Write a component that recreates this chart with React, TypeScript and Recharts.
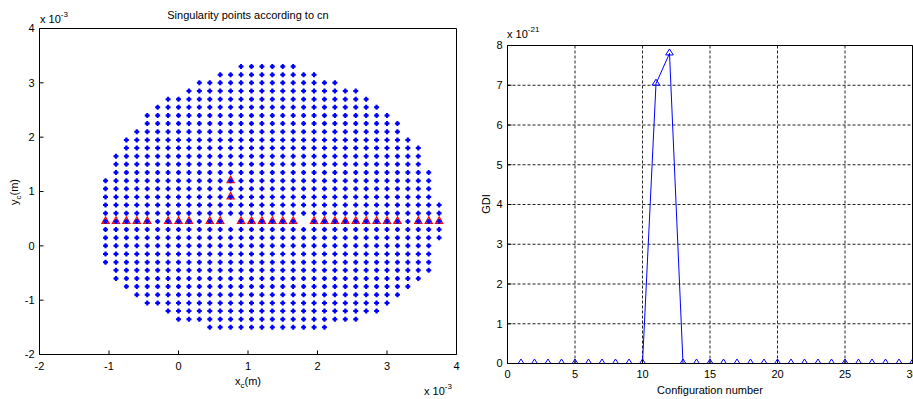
// Two MATLAB style panels: singular centre positions (left) and GDI per configuration (right)
import { ScatterChart, Scatter, LineChart, Line, XAxis, YAxis, CartesianGrid } from 'recharts';

// left panel: candidate centres on a 0.15e-3 m grid (values in 1e-3 m)
const colX = [-1.05, -0.9, -0.75, -0.6, -0.45, -0.3, -0.15, 0, 0.15, 0.3, 0.45, 0.6, 0.75, 0.9, 1.05, 1.2,
    1.35, 1.5, 1.65, 1.8, 1.95, 2.1, 2.25, 2.4, 2.55, 2.7, 2.85, 3, 3.15, 3.3, 3.45, 3.6, 3.75];
const rowY = [3.3, 3.15, 3, 2.85, 2.7, 2.55, 2.4, 2.25, 2.1, 1.95, 1.8, 1.65, 1.5, 1.35, 1.2, 1.05, 0.9,
    0.75, 0.6, 0.45, 0.3, 0.15, 0, -0.15, -0.3, -0.45, -0.6, -0.75, -0.9, -1.05, -1.2, -1.35, -1.5];
// first / last filled column of each row
const rowFirst = [13, 11, 9, 8, 6, 5, 4, 4, 3, 2, 2, 1, 1, 1, 0, 0, 0, 0, 0, 0, 0, 0, 0, 0, 0, 1, 1, 2, 3, 4, 6, 7, 10];
const rowLast = [18, 20, 22, 24, 25, 26, 27, 28, 28, 29, 30, 30, 30, 31, 31, 31, 31, 32, 32, 32, 32, 32, 31, 31, 31, 31, 30, 29, 28, 27, 26, 24, 21];
// empty spots in the grid
const holeX = [0.75, 1.8];
const holeY = [0.45, 0.45];

// singular points (red triangles)
const singRowY = 0.45;
const singRowX = [-1.05, -0.9, -0.75, -0.6, -0.45, -0.15, 0, 0.15, 0.45, 0.6, 0.9, 1.05, 1.2, 1.35, 1.5, 1.65,
    1.95, 2.1, 2.25, 2.4, 2.55, 2.7, 2.85, 3, 3.15, 3.45, 3.6, 3.75];
const singExtraX = [0.75, 0.75];
const singExtraY = [1.2, 0.9];

const ticksL = [-2, -1, 0, 1, 2, 3, 4];

// right panel: GDI (x 1e-21) per configuration
const configNo = [1, 2, 3, 4, 5, 6, 7, 8, 9, 10, 11, 12, 13, 14, 15, 16, 17, 18, 19, 20, 21, 22, 23, 24, 25, 26, 27, 28, 29, 30];
const gdi = [0, 0, 0, 0, 0, 0, 0, 0, 0, 0, 7.04, 7.8, 0, 0, 0, 0, 0, 0, 0, 0, 0, 0, 0, 0, 0, 0, 0, 0, 0, 0];
const xTicksR = [0, 5, 10, 15, 20, 25, 30];
const yTicksR = [0, 1, 2, 3, 4, 5, 6, 7, 8];

const gridPts = rowY.flatMap((y, j) =>
    colX.slice(rowFirst[j], rowLast[j] + 1)
        .filter(x => !holeX.some((hx, k) => hx === x && holeY[k] === y))
        .map(x => ({ x, y })));
const singPts = [
    ...singRowX.map(x => ({ x, y: singRowY })),
    ...singExtraX.map((x, i) => ({ x, y: singExtraY[i] })),
];
const gdiData = configNo.map((c, i) => ({ c, g: gdi[i] }));

const FONT = '"Liberation Sans", Arial, sans-serif';
const tickFont = { fill: '#000', fontSize: 11, fontFamily: FONT };
const BLUE = '#0000ff';

const BluePlus = (p: any) => {
    const { cx, cy } = p;
    return (
        <path
            d={`M${cx - 2.5},${cy - 1}h5v2h-5z M${cx - 1},${cy - 2.5}h2v5h-2z M${cx - 1.5},${cy - 1.5}h3v3h-3z`}
            fill={BLUE}
        />
    );
};

const RedTri = (p: any) => {
    const { cx, cy } = p;
    return (
        <path
            d={`M${cx},${cy - 4.5}L${cx + 3.6},${cy + 2}L${cx - 3.6},${cy + 2}Z`}
            fill="none" stroke="#ff0000" strokeWidth={1.2}
        />
    );
};

const TriDot = (p: any) => {
    const { cx, cy, index } = p;
    return (
        <path
            key={`t${index}`}
            d={`M${cx},${cy - 4.5}L${cx + 3.8},${cy + 1.5}L${cx - 3.8},${cy + 1.5}Z`}
            fill="none" stroke={BLUE} strokeWidth={1}
        />
    );
};

const frame = { stroke: '#000', strokeWidth: 1 };

export default function App() {
    return (
        <div style={{ position: 'absolute', left: 0, top: 0, width: 913, height: 399, background: '#fff', overflow: 'hidden' }}>
            {/* left: singularity map */}
            <div style={{ position: 'absolute', left: 0, top: 0 }}>
                <ScatterChart width={460} height={399} margin={{ top: 28.5, right: 3.5, bottom: 24.5, left: 9.5 }}>
                    <XAxis xAxisId={0} dataKey="x" type="number" domain={[-2, 4]} ticks={ticksL} interval={0}
                        allowDataOverflow height={20} tickSize={-4} tickMargin={12} axisLine={frame}
                        tickLine={frame} tick={tickFont} />
                    <XAxis xAxisId="top" orientation="top" mirror type="number" domain={[-2, 4]} ticks={ticksL}
                        interval={0} allowDataOverflow tick={false} tickSize={4} axisLine={frame} tickLine={frame} />
                    <YAxis yAxisId={0} dataKey="y" type="number" domain={[-2, 4]} ticks={ticksL} interval={0}
                        allowDataOverflow width={30} tickSize={-4} tickMargin={9} axisLine={frame}
                        tickLine={frame} tick={tickFont} />
                    <YAxis yAxisId="right" orientation="right" mirror type="number" domain={[-2, 4]} ticks={ticksL}
                        interval={0} allowDataOverflow tick={false} tickSize={4} axisLine={frame} tickLine={frame} />
                    <Scatter data={singPts} shape={RedTri} isAnimationActive={false} />
                    <Scatter data={gridPts} shape={BluePlus} isAnimationActive={false} />
                </ScatterChart>
            </div>

            {/* right: GDI per configuration */}
            <div style={{ position: 'absolute', left: 460, top: 0 }}>
                <LineChart width={453} height={399} data={gdiData} margin={{ top: 45.5, right: 0.5, bottom: 15.5, left: 7.5 }}>
                    <CartesianGrid stroke="#222" strokeDasharray="3 2" />
                    <XAxis xAxisId={0} dataKey="c" type="number" domain={[0, 30]} ticks={xTicksR} interval={0}
                        allowDataOverflow height={20} tickSize={-4} tickMargin={10.5} axisLine={frame}
                        tickLine={frame} tick={tickFont} />
                    <XAxis xAxisId="top" orientation="top" mirror type="number" domain={[0, 30]} ticks={xTicksR}
                        interval={0} allowDataOverflow tick={false} tickSize={4} axisLine={frame} tickLine={frame} />
                    <YAxis yAxisId={0} type="number" domain={[0, 8]} ticks={yTicksR} interval={0}
                        allowDataOverflow width={40} tickSize={-4} tickMargin={9} axisLine={frame}
                        tickLine={frame} tick={tickFont} />
                    <YAxis yAxisId="right" orientation="right" mirror type="number" domain={[0, 8]} ticks={yTicksR}
                        interval={0} allowDataOverflow tick={false} tickSize={4} axisLine={frame} tickLine={frame} />
                    <Line dataKey="g" type="linear" stroke={BLUE} strokeWidth={1} dot={TriDot}
                        activeDot={false} isAnimationActive={false} />
                </LineChart>
            </div>

            {/* titles, axis labels and exponents */}
            <svg width={913} height={399} style={{ position: 'absolute', left: 0, top: 0, pointerEvents: 'none' }}
                fontFamily={FONT} fontSize={11} fill="#000">
                <text x={248} y={19} textAnchor="middle">Singularity points according to cn</text>
                <text x={40} y={23}>x 10<tspan dy={-6} fontSize={8}>-3</tspan></text>
                <text x={424} y={395}>x 10<tspan dy={-6} fontSize={8}>-3</tspan></text>
                <text x={248} y={385} textAnchor="middle">x<tspan dy={3} fontSize={8}>c</tspan><tspan dy={-3}>(m)</tspan></text>
                <text transform="translate(18,192) rotate(-90)" textAnchor="middle">y<tspan dy={3} fontSize={8}>c</tspan><tspan dy={-3}>(m)</tspan></text>

                <text x={507} y={38}>x 10<tspan dy={-6} fontSize={8}>-21</tspan></text>
                <text transform="translate(490,204) rotate(-90)" textAnchor="middle">GDI</text>
                <text x={710} y={394} textAnchor="middle">Configuration number</text>
            </svg>
        </div>
    );
}
